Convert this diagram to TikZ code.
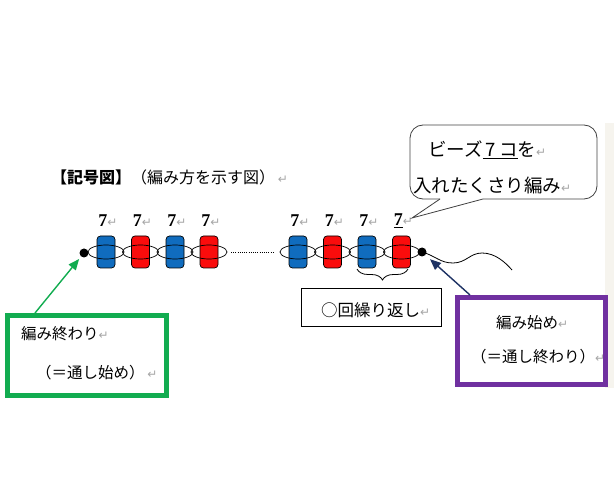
\documentclass[tikz,border=0pt]{standalone}
\usepackage{fontspec}
\setmainfont{Liberation Serif}
\newfontfamily\jp{Noto Sans CJK JP}
\newfontfamily\dvs{DejaVu Sans}
\usetikzlibrary{shapes.geometric,decorations.pathreplacing,arrows.meta}
\definecolor{beadblue}{RGB}{16,108,190}
\definecolor{beadred}{RGB}{250,12,12}
\definecolor{gcol}{RGB}{18,172,80}
\definecolor{pcol}{RGB}{112,48,160}
\definecolor{navy}{RGB}{30,50,100}
\definecolor{faint}{RGB}{246,244,238}
\newcommand\retmk{{\dvs\fontsize{12}{12}\selectfont\color{black!35}↵}}
\begin{document}
\begin{tikzpicture}[x=1pt,y=-1pt,
  bead/.style={draw, rounded corners=3.5pt, minimum width=18pt, minimum height=32pt, inner sep=0pt, line width=0.7pt},
  bblue/.style={bead, fill=beadblue},
  bred/.style={bead, fill=beadred},
  ring/.style={draw, ellipse, minimum width=36pt, minimum height=14pt, inner sep=0pt, line width=0.7pt},
  knot/.style={circle, fill=black, minimum size=9pt, inner sep=0pt},
  num/.style={font=\fontsize{18}{18}\selectfont, inner sep=0pt},
  jtext/.style={font=\jp\fontsize{15.5}{15.5}\selectfont, inner sep=0pt, anchor=west},
  frame/.style={inner sep=0pt, line width=5pt},
  arr/.style={line width=1.4pt, -{Triangle[length=11pt,width=9pt]}}
]
\useasboundingbox (0,0) rectangle (614,484);
\fill[faint] (605,123) rectangle (614,388);

% title
\node[jtext, font=\jp\fontsize{16}{16}\selectfont] (title) at (51,177) {{\bfseries 【記号図】}（編み方を示す図）\,\retmk};

% left beads
\node[bblue] (b1) at (106,252) {};
\node[bred]  (b2) at (140.5,252) {};
\node[bblue] (b3) at (175,252) {};
\node[bred]  (b4) at (209,252) {};
% right beads
\node[bblue] (b5) at (298,252) {};
\node[bred]  (b6) at (332.5,252) {};
\node[bblue] (b7) at (367,252) {};
\node[bred]  (b8) at (401.5,252) {};
% rings
\foreach \b in {b1,b2,b3,b4,b5,b6,b7,b8}{\node[ring] at (\b) {};}

% dotted middle
\coordinate (d1) at (231,252);
\coordinate (d2) at (274,252);
\draw[line width=0.8pt, dash pattern=on 1pt off 1.2pt] (d1) -- (d2);

% wavy tail
\coordinate (wend) at (512,270);
\draw[line width=0.8pt] (422,252) .. controls (436,256) and (440,263) .. (453,263)
  .. controls (466,263) and (470,253) .. (482,253)
  .. controls (495,253) and (505,262) .. (wend);

% knots
\node[knot] (ldot) at (84,253) {};
\node[knot] (rdot) at (422,252) {};

% numbers
\foreach \x in {108,142.5,177,211,300,334.5,369}{\node[num] at (\x,221) {\textbf{7}\retmk};}
\node[num] (n8) at (403.5,221) {\underline{\textbf{7}}\retmk};

% brace
\coordinate (br1) at (357,269);
\coordinate (br2) at (408,269);
\draw[line width=0.8pt, decorate, decoration={brace, mirror, amplitude=11pt}] (br1) -- (br2);

% repeat box
\node[draw, line width=0.8pt, minimum width=140pt, minimum height=38pt, inner sep=0pt] (rbox) at (371.7,307.5) {};
\node[jtext, font=\jp\fontsize{16.5}{16.5}\selectfont] (rtxt) at (321,310) {○回繰り返し\retmk};

% green box
\node[frame, draw=gcol, minimum width=158.5pt, minimum height=80pt] (gbox) at (86.75,355.5) {};
\node[jtext] (g1) at (21,334) {編み終わり\retmk};
\node[jtext] (g2) at (36,373) {（＝通し始め）\,\retmk};
\coordinate (ga) at (35,313);
\draw[arr, draw=gcol, fill=gcol, shorten >=3pt] (ga) -- (ldot);

% purple box
\node[frame, draw=pcol, minimum width=147.5pt, minimum height=87pt] (pbox) at (531.25,341) {};
\node[jtext] (p1) at (496,323) {編み始め\retmk};
\node[jtext] (p2) at (471,357) {（＝通し終わり）\retmk};
\coordinate (pa) at (470,295);
\draw[arr, draw=navy, fill=navy, shorten >=6pt] (pa) -- (rdot);

% callout
\coordinate (ct) at (412,218);
\draw[line width=0.8pt, draw=black!75, rounded corners=13pt] (440,199) -- (410,199) -- (410,125) -- (597,125) -- (597,199) -- (483,199);
\draw[line width=0.8pt, draw=black!75] (440,199) -- (ct) -- (483,199);
\node[jtext, font=\jp\fontsize{18.5}{18.5}\selectfont] (c1) at (428,150) {ビーズ\underline{\,7\,コ}を\retmk};
\node[jtext, font=\jp\fontsize{18.5}{18.5}\selectfont] (c2) at (413,185) {入れたくさり編み\retmk};
\end{tikzpicture}
\end{document}
